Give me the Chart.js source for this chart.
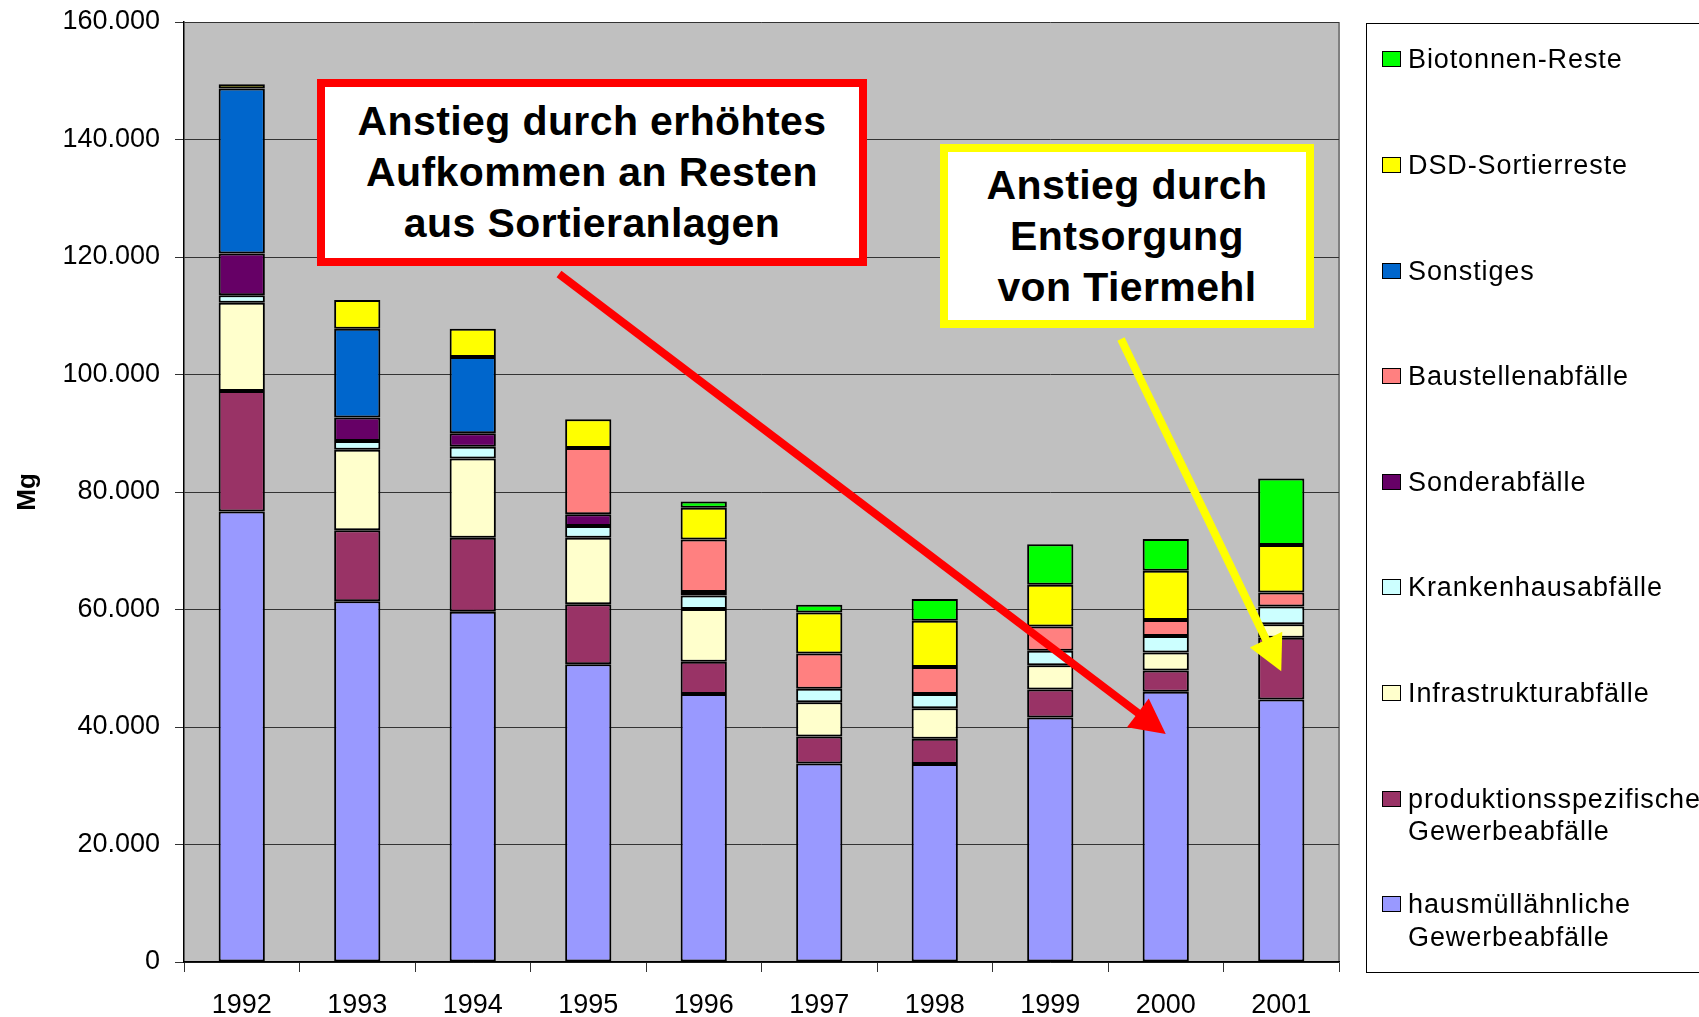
<!DOCTYPE html>
<html>
<head>
<meta charset="utf-8">
<script src="https://cdn.jsdelivr.net/npm/chart.js@4.4.1/dist/chart.umd.min.js"></script>
<style>
  html, body { margin: 0; padding: 0; background: #fff; overflow: hidden; }
  #wrap { position: relative; width: 1699px; height: 1017px; overflow: hidden; font-family: "Liberation Sans", Arial, sans-serif; color: #000; }
  #chart { position: absolute; left: 0; top: 0; }
  .note { position: absolute; box-sizing: border-box; background: #fff; border: 8px solid; font-weight: bold; font-size: 41px; line-height: 51px; letter-spacing: 0.4px; text-align: center; display: flex; flex-direction: column; justify-content: center; }
  #legend { position: absolute; left: 1366px; top: 23px; width: 400px; height: 950px; border: 1px solid #000; box-sizing: border-box; }
  .item { position: absolute; left: 15px; font-size: 27px; line-height: 32.5px; letter-spacing: 0.9px; }
  .sw { position: absolute; left: 0; top: 8px; width: 19px; height: 16px; box-sizing: border-box; border: 1px solid #000; }
  .txt { position: absolute; left: 26px; top: 0; white-space: pre; }
</style>
</head>
<body>
<div id="wrap">
  <canvas id="chart" width="1699" height="1017"></canvas>
  <div class="note" style="left:317px;top:79px;width:550px;height:187px;border-color:#ff0000;">
    <div>Anstieg durch erhöhtes</div><div>Aufkommen an Resten</div><div>aus Sortieranlagen</div>
  </div>
  <div class="note" style="left:940px;top:144px;width:374px;height:184px;border-color:#ffff00;">
    <div>Anstieg durch</div><div>Entsorgung</div><div>von Tiermehl</div>
  </div>
  <div id="legend"></div>
</div>
<script>
// years
const years = ['1992', '1993', '1994', '1995', '1996', '1997', '1998', '1999', '2000', '2001'];

// Mg per year, stacked bottom to top
const hausmuell    = [76700, 61400, 59600, 50700, 45600, 33800, 33700, 41600, 46000, 44700];
const produktion   = [20500, 12100, 12600, 10200,  5500,  4600,  4300,  4800,  3600, 10500];
const infrastruktur= [15000, 13700, 13500, 11300,  9000,  5800,  5200,  4100,  3100,  2300];
const krankenhaus  = [ 1300,  1500,  2000,  2000,  2300,  2300,  2400,  2500,  2800,  3000];
const sonderabf    = [ 7100,  4000,  2300,  2000,   600,     0,     0,     0,     0,     0];
const baustellen   = [    0,     0,     0, 11300,  8900,  6000,  4600,  4100,  2700,  2400];
const sonstiges    = [28100, 15100, 13000,     0,     0,     0,     0,     0,     0,     0];
const dsdReste     = [  700,  4900,  4800,  4900,  5400,  7000,  7900,  7100,  8400,  8100];
const biotonne     = [    0,     0,     0,     0,  1100,  1300,  3700,  6900,  5400, 11300];

const yTickLabels = ['0', '20.000', '40.000', '60.000', '80.000', '100.000', '120.000', '140.000', '160.000'];

const series = [
  { label: 'hausmüllähnliche\nGewerbeabfälle', data: hausmuell, color: '#9999ff' },
  { label: 'produktionsspezifische\nGewerbeabfälle', data: produktion, color: '#993366' },
  { label: 'Infrastrukturabfälle', data: infrastruktur, color: '#ffffcc' },
  { label: 'Krankenhausabfälle', data: krankenhaus, color: '#ccffff' },
  { label: 'Sonderabfälle', data: sonderabf, color: '#660066' },
  { label: 'Baustellenabfälle', data: baustellen, color: '#ff8080' },
  { label: 'Sonstiges', data: sonstiges, color: '#0066cc' },
  { label: 'DSD-Sortierreste', data: dsdReste, color: '#ffff00' },
  { label: 'Biotonnen-Reste', data: biotonne, color: '#00ff00' }
];

// legend, top entry = last series
const legend = document.getElementById('legend');
series.slice().reverse().forEach((s, i) => {
  const center = 59.6 + i * 105.6;
  const item = document.createElement('div');
  item.className = 'item';
  item.style.top = (center - 24 - 16.25) + 'px';
  item.innerHTML = '<div class="sw" style="background:' + s.color + '"></div><div class="txt"></div>';
  item.querySelector('.txt').textContent = s.label;
  legend.appendChild(item);
});

// arrows: start in pixels under the boxes, tip at a category / value
const arrows = [
  { x0: 559, y0: 274, tipIndex: 8, tipValue: 38800, color: '#ff0000' },
  { x0: 1121, y0: 339, tipIndex: 9, tipValue: 49500, color: '#ffff00' }
];

const plotBg = {
  id: 'plotBg',
  beforeDraw(chart) {
    const { ctx, chartArea: a } = chart;
    ctx.save();
    ctx.fillStyle = '#c0c0c0';
    ctx.fillRect(a.left, a.top, a.right - a.left, a.bottom - a.top);
    ctx.strokeStyle = '#808080';
    ctx.lineWidth = 2;
    ctx.beginPath();
    ctx.moveTo(a.right, a.top);
    ctx.lineTo(a.right, a.bottom);
    ctx.stroke();
    ctx.restore();
  },
  afterDraw(chart) {
    const ctx = chart.ctx;
    const xs = chart.scales.x, ys = chart.scales.y;
    arrows.forEach(ar => {
      const x1 = xs.getPixelForValue(ar.tipIndex);
      const y1 = ys.getPixelForValue(ar.tipValue);
      const ang = Math.atan2(y1 - ar.y0, x1 - ar.x0);
      const head = 35, half = 18;
      const bx = x1 - head * Math.cos(ang), by = y1 - head * Math.sin(ang);
      ctx.save();
      ctx.strokeStyle = ar.color;
      ctx.fillStyle = ar.color;
      ctx.lineWidth = 8;
      ctx.beginPath();
      ctx.moveTo(ar.x0, ar.y0);
      ctx.lineTo(bx + 2 * Math.cos(ang), by + 2 * Math.sin(ang));
      ctx.stroke();
      ctx.beginPath();
      ctx.moveTo(x1, y1);
      ctx.lineTo(bx - half * Math.sin(ang), by + half * Math.cos(ang));
      ctx.lineTo(bx + half * Math.sin(ang), by - half * Math.cos(ang));
      ctx.closePath();
      ctx.fill();
      ctx.restore();
    });
  }
};

Chart.defaults.font.family = '"Liberation Sans", Arial, sans-serif';
Chart.defaults.color = '#000';

new Chart(document.getElementById('chart'), {
  type: 'bar',
  data: {
    labels: years,
    datasets: series.map(s => ({
      label: s.label,
      data: s.data,
      backgroundColor: s.color,
      borderColor: '#000',
      borderWidth: 2,
      borderSkipped: false,
      barPercentage: 0.4,
      categoryPercentage: 1
    }))
  },
  options: {
    responsive: false,
    devicePixelRatio: 1,
    animation: false,
    layout: { padding: { top: 22, right: 360, bottom: 0, left: 0 } },
    plugins: { legend: { display: false }, tooltip: { enabled: false } },
    scales: {
      x: {
        stacked: true,
        afterFit: s => { s.height = 55; s.paddingLeft = 0; s.paddingRight = 0; },
        grid: { drawOnChartArea: false, tickLength: 10, color: '#333', lineWidth: 1 },
        border: { color: '#000', width: 1.5 },
        ticks: { font: { size: 27 }, padding: 17, maxRotation: 0 }
      },
      y: {
        stacked: true,
        min: 0,
        max: 160000,
        afterFit: s => { s.width = 184; s.paddingTop = 0; s.paddingBottom = 0; },
        grid: { color: '#333', lineWidth: 1, tickLength: 9 },
        border: { color: '#000', width: 1.5 },
        ticks: {
          stepSize: 20000,
          font: { size: 27 },
          padding: 15,
          callback: (v, i) => yTickLabels[i]
        },
        title: { display: true, text: 'Mg', font: { size: 26, weight: 'bold' }, padding: { top: 12, bottom: 0 } }
      }
    }
  },
  plugins: [plotBg]
});
</script>
</body>
</html>
